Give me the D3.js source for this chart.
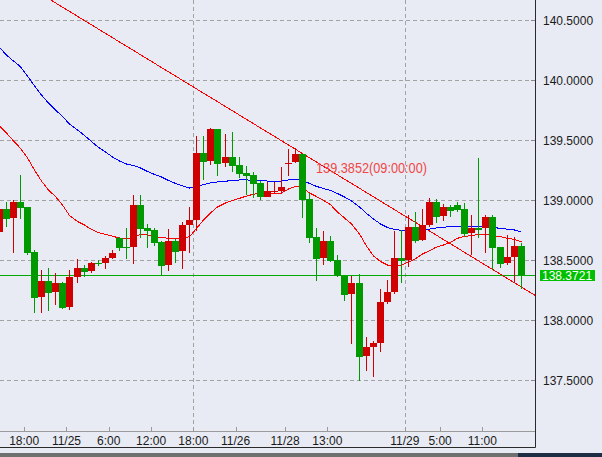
<!DOCTYPE html>
<html>
<head>
<meta charset="utf-8">
<script src="https://cdn.jsdelivr.net/npm/d3@7"></script>
<style>
  html, body { margin: 0; padding: 0; background: #e8ebf3; }
  svg { display: block; }
  text { font-family: Arial, "Liberation Sans", sans-serif; }
</style>
</head>
<body>
<svg id="chart" width="602" height="457"></svg>
<script>
// ---- data (hourly candles) ----
const opens = [138.733,138.925,138.853,138.983,138.942,138.567,138.194,138.325,138.236,138.308,
  138.111,138.361,138.433,138.411,138.478,138.478,138.519,138.683,138.611,138.611,
  138.958,138.769,138.750,138.653,138.461,138.658,138.578,138.794,138.833,139.392,
  139.328,139.592,139.311,139.358,139.292,139.228,139.211,139.142,139.028,139.071,
  139.075,139.302,139.314,139.383,139.008,138.692,138.517,138.658,138.500,138.369,
  138.219,138.308,137.703,137.775,137.808,138.150,138.233,138.517,138.500,138.775,
  138.667,138.792,138.983,138.867,138.942,138.958,138.925,138.725,138.767,138.763,
  138.858,138.608,138.478,138.528,138.617];
const closes = [138.925,138.844,138.983,138.936,138.561,138.186,138.325,138.228,138.308,138.103,
  138.358,138.433,138.403,138.472,138.467,138.519,138.558,138.603,138.603,138.958,
  138.761,138.744,138.644,138.453,138.658,138.569,138.794,138.833,139.392,139.319,
  139.592,139.303,139.358,139.286,139.219,139.203,139.136,139.028,139.075,139.079,
  139.108,139.308,139.383,139.003,138.686,138.511,138.658,138.494,138.369,138.211,
  138.308,137.694,137.775,137.808,138.150,138.233,138.517,138.492,138.775,138.658,
  138.792,138.983,138.858,138.942,138.908,138.917,138.719,138.767,138.753,138.858,
  138.603,138.469,138.525,138.617,138.372];
const highs = [138.942,138.983,139.000,139.208,138.945,138.583,138.417,138.433,138.392,138.317,
  138.417,138.508,138.458,138.483,138.500,138.536,138.583,138.694,138.767,139.042,
  139.042,138.803,138.767,138.661,138.758,138.678,138.817,138.944,139.533,139.533,
  139.603,139.595,139.550,139.567,139.358,139.286,139.236,139.161,139.153,139.153,
  139.278,139.425,139.431,139.386,139.056,138.764,138.742,138.700,138.542,138.375,
  138.367,138.383,137.858,137.825,138.258,138.333,138.742,138.750,138.875,138.900,
  138.925,139.017,139.008,138.967,138.958,138.983,138.975,138.875,139.353,138.875,
  138.875,138.611,138.708,138.692,138.642];
const lows = [138.700,138.778,138.561,138.844,138.542,138.061,138.061,138.078,138.128,138.094,
  138.086,138.308,138.361,138.394,138.450,138.428,138.511,138.578,138.511,138.469,
  138.686,138.603,138.619,138.369,138.411,138.478,138.428,138.561,138.744,139.167,
  139.294,139.203,139.278,139.236,139.186,139.044,139.019,139.003,139.025,139.061,
  139.056,139.203,139.308,138.848,138.644,138.328,138.458,138.483,138.358,138.161,
  137.800,137.492,137.575,137.528,137.733,138.133,138.217,138.308,138.442,138.638,
  138.658,138.775,138.811,138.825,138.858,138.900,138.694,138.542,138.686,138.558,
  138.419,138.436,138.458,138.319,138.261];

// moving averages (slow = blue, fast = red)
const maSlow = [140.271,140.208,140.158,140.111,140.033,139.950,139.875,139.808,139.750,139.696,
  139.633,139.583,139.538,139.488,139.438,139.400,139.358,139.325,139.300,139.288,
  139.267,139.238,139.213,139.192,139.163,139.138,139.117,139.100,139.113,139.128,
  139.142,139.150,139.156,139.164,139.167,139.167,139.165,139.161,139.158,139.157,
  139.158,139.167,139.173,139.163,139.138,139.113,139.096,139.079,139.054,139.025,
  138.992,138.942,138.888,138.842,138.800,138.771,138.754,138.748,138.750,138.752,
  138.754,138.758,138.767,138.773,138.778,138.779,138.781,138.781,138.779,138.778,
  138.771,138.764,138.757,138.750,138.733];
const maFast = [139.617,139.558,139.492,139.431,139.350,139.250,139.158,139.083,139.029,138.958,
  138.871,138.821,138.792,138.754,138.729,138.713,138.698,138.683,138.675,138.692,
  138.714,138.708,138.696,138.688,138.681,138.681,138.681,138.694,138.763,138.833,
  138.892,138.942,138.975,138.996,139.014,139.033,139.048,139.056,139.056,139.056,
  139.058,139.092,139.113,139.104,139.058,139.029,138.996,138.961,138.900,138.850,
  138.800,138.717,138.617,138.533,138.488,138.458,138.454,138.458,138.483,138.511,
  138.550,138.578,138.608,138.625,138.646,138.681,138.696,138.704,138.713,138.715,
  138.704,138.694,138.681,138.671,138.650];

const yTicks = [137.5, 138.0, 138.5, 139.0, 139.5, 140.0, 140.5];
const xLabels = ["18:00","11/25","6:00","12:00","18:00","11/26","11/28","13:00","11/29","5:00","11:00"];
const xLabelIdx = [4, 10, 16, 22, 28, 34, 41, 47, 58, 63, 69];
const vGridIdx = [28, 58];
const trendPts = [[10, 140.587], [70, 138.437]];
const trendText = "139.3852(09:00:00)";
const lastPrice = 138.3721;

// ---- layout ----
const W = 602, H = 457;
const plotR = 536, plotB = 432, frameB = 448;
const n = opens.length;
const step = 7.05;

const svg = d3.select("#chart");
svg.append("rect").attr("width", W).attr("height", H).attr("fill", "#e8ebf3");

const x = d3.scaleBand().domain(d3.range(n)).range([-4.05, -4.05 + n * step]).padding(0);
const xi = d3.scaleLinear().domain([0, n - 1]).range([x(0), x(n - 1)]);
const y = d3.scaleLinear().domain([137.5, 140.5]).range([380, 20]);
const cx = i => Math.round(x(i)) + 3.5;

svg.append("clipPath").attr("id", "plot").append("rect")
  .attr("x", 0).attr("y", 0).attr("width", plotR).attr("height", plotB);
const g = svg.append("g").attr("clip-path", "url(#plot)");

// grid
g.selectAll(".hg").data(yTicks).join("line")
  .attr("x1", 0).attr("x2", plotR)
  .attr("y1", d => Math.round(y(d)) + 0.5).attr("y2", d => Math.round(y(d)) + 0.5)
  .attr("stroke", "#a3a3a3").attr("stroke-dasharray", "4,3");
g.selectAll(".vg").data(vGridIdx).join("line")
  .attr("x1", d => Math.round(x(d)) + 0.5).attr("x2", d => Math.round(x(d)) + 0.5)
  .attr("y1", 0).attr("y2", plotB)
  .attr("stroke", "#a3a3a3").attr("stroke-dasharray", "4,3");

// current price line
g.append("line").attr("x1", 0).attr("x2", plotR)
  .attr("y1", Math.round(y(lastPrice)) + 0.5).attr("y2", Math.round(y(lastPrice)) + 0.5)
  .attr("stroke", "#00aa00");

// trend line
const tSlope = (trendPts[1][1] - trendPts[0][1]) / (trendPts[1][0] - trendPts[0][0]);
const tAt = i => trendPts[0][1] + tSlope * (i - trendPts[0][0]);
g.append("line")
  .attr("x1", xi(0)).attr("y1", y(tAt(0)))
  .attr("x2", xi(n + 4)).attr("y2", y(tAt(n + 4)))
  .attr("stroke", "#ff0000").attr("shape-rendering", "crispEdges");

// moving averages
const maLine = d3.line().x((d, i) => cx(i)).y(d => y(d));
g.append("path").attr("d", maLine(maSlow)).attr("fill", "none")
  .attr("stroke", "#0000ff").attr("shape-rendering", "crispEdges");
g.append("path").attr("d", maLine(maFast)).attr("fill", "none")
  .attr("stroke", "#ff0000").attr("shape-rendering", "crispEdges");

// candles (red = up, green = down)
const idx = d3.range(n);
const col = i => closes[i] >= opens[i] ? "#d00000" : "#009a00";
const candles = g.append("g").attr("shape-rendering", "crispEdges");
candles.selectAll("line").data(idx).join("line")
  .attr("x1", cx).attr("x2", cx)
  .attr("y1", i => Math.round(y(highs[i]))).attr("y2", i => Math.round(y(lows[i])))
  .attr("stroke", col);
candles.selectAll("rect").data(idx).join("rect")
  .attr("x", i => Math.round(x(i)))
  .attr("width", 7)
  .attr("y", i => Math.round(y(Math.max(opens[i], closes[i]))))
  .attr("height", i => Math.max(1, Math.round(y(Math.min(opens[i], closes[i]))) - Math.round(y(Math.max(opens[i], closes[i])))))
  .attr("fill", col);

// trend label
g.append("text").attr("x", 316).attr("y", 173)
  .attr("fill", "#f04848")
  .style("font-family", "'Liberation Sans Narrow','Arial Narrow',Arial,sans-serif")
  .style("font-size", "14.5px")
  .attr("textLength", 111).attr("lengthAdjust", "spacingAndGlyphs")
  .text(trendText);

// right axis
svg.selectAll(".yt").data(yTicks).join("line")
  .attr("x1", 531).attr("x2", 535)
  .attr("y1", d => Math.round(y(d)) + 0.5).attr("y2", d => Math.round(y(d)) + 0.5)
  .attr("stroke", "#8a8a8a");
svg.selectAll(".yl").data(yTicks).join("text")
  .attr("x", 543).attr("y", d => y(d) + 4.5)
  .attr("fill", "#1a1a1a").style("font-size", "12px")
  .text(d => d.toFixed(4));

// last price tag
const ly = Math.round(y(lastPrice));
svg.append("rect").attr("x", 540).attr("y", ly - 5).attr("width", 55).attr("height", 11)
  .attr("fill", "#00c000");
svg.append("text").attr("x", 542).attr("y", ly + 4.5)
  .attr("fill", "#ffffff").style("font-size", "12px")
  .text(lastPrice.toFixed(4));

// bottom axis
svg.append("line").attr("x1", 0).attr("x2", plotR).attr("y1", plotB - 0.5).attr("y2", plotB - 0.5)
  .attr("stroke", "#9a9a9a");
svg.selectAll(".xt").data(xLabelIdx).join("line")
  .attr("x1", d => Math.round(x(d)) + 0.5).attr("x2", d => Math.round(x(d)) + 0.5)
  .attr("y1", plotB - 5).attr("y2", plotB)
  .attr("stroke", "#9a9a9a");
svg.selectAll(".xl").data(xLabelIdx).join("text")
  .attr("x", d => x(d)).attr("y", 445)
  .attr("text-anchor", "middle")
  .attr("fill", "#1a1a1a").style("font-size", "12px")
  .text((d, i) => xLabels[i]);

// frame
svg.append("path").attr("d", `M${plotR - 0.5},0V${frameB - 0.5}H0`)
  .attr("fill", "none").attr("stroke", "#2a2a2a");
svg.append("rect").attr("x", 0).attr("y", 453).attr("width", 518).attr("height", 4).attr("fill", "#707070");
svg.append("rect").attr("x", 518).attr("y", 453).attr("width", 84).attr("height", 4).attr("fill", "#1e2c44");
</script>
</body>
</html>
